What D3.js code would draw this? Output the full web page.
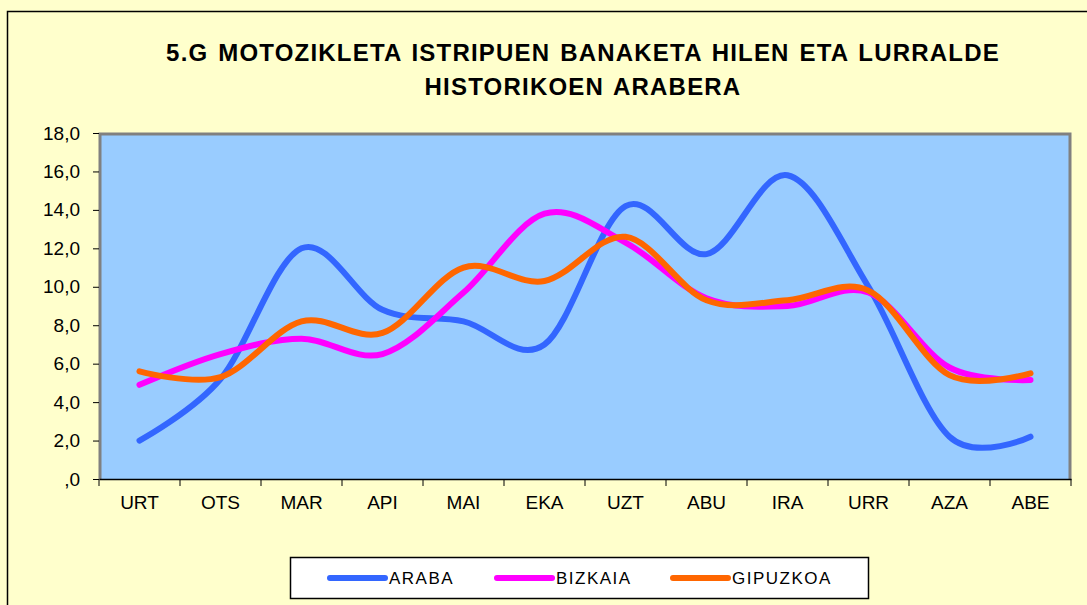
<!DOCTYPE html>
<html>
<head>
<meta charset="utf-8">
<script src="https://cdn.jsdelivr.net/npm/d3@7"></script>
<style>
  body { margin: 0; background: #FFFFCC; }
  svg { display: block; font-family: Arial, "Liberation Sans", sans-serif; }
</style>
</head>
<body>
<svg id="chart" width="1087" height="605"></svg>
<script>
// hilabeteak
var MONTHS = ["URT", "OTS", "MAR", "API", "MAI", "EKA", "UZT", "ABU", "IRA", "URR", "AZA", "ABE"];
var ARABA    = [2.0, 5.2, 12.0, 8.8, 8.2, 7.0, 14.2, 11.7, 15.8, 10.0, 2.2, 2.2];
var BIZKAIA  = [4.9, 6.5, 7.3, 6.5, 9.7, 13.8, 12.3, 9.4, 9.0, 9.7, 5.8, 5.15];
var GIPUZKOA = [5.6, 5.3, 8.2, 7.6, 11.0, 10.3, 12.6, 9.3, 9.3, 9.8, 5.4, 5.5];
var SERIES_NAMES = ["ARABA", "BIZKAIA", "GIPUZKOA"];
var Y_TICKS = [0, 2, 4, 6, 8, 10, 12, 14, 16, 18];
var TITLE_LINES = ["5.G MOTOZIKLETA ISTRIPUEN BANAKETA HILEN ETA LURRALDE", "HISTORIKOEN ARABERA"];

var COLORS = ["#3366FF", "#FF00FF", "#FF6600"];
var PLOT = {left: 99, right: 1071, top: 133, bottom: 479};

var svg = d3.select("#chart");

// kanpoko markoa
svg.append("rect")
    .attr("x", 7.5).attr("y", 11.5)
    .attr("width", 1100).attr("height", 620)
    .attr("fill", "#FFFFCC")
    .attr("stroke", "#000").attr("stroke-width", 1.5);

// izenburua
svg.selectAll("text.title")
    .data(TITLE_LINES)
    .enter()
    .append("text")
    .attr("class", "title")
    .attr("x", 583)
    .attr("y", function(d, i) { return 61 + i * 34; })
    .attr("text-anchor", "middle")
    .attr("font-size", 24)
    .attr("font-weight", "bold")
    .attr("letter-spacing", 1.2)
    .attr("word-spacing", 2)
    .attr("fill", "#000")
    .text(function(d) { return d; });

var x = d3.scaleBand().domain(MONTHS).range([PLOT.left, PLOT.right]);
var y = d3.scaleLinear().domain([0, 18]).range([PLOT.bottom, PLOT.top]);

// marrazketa eremua
svg.append("rect")
    .attr("x", PLOT.left).attr("y", PLOT.top)
    .attr("width", PLOT.right - PLOT.left).attr("height", PLOT.bottom - PLOT.top)
    .attr("fill", "#99CCFF");
svg.append("path")
    .attr("d", "M" + (PLOT.left + 1) + "," + PLOT.bottom + "V" + (PLOT.top + 1) + "H" + (PLOT.right - 1) + "V" + PLOT.bottom)
    .attr("fill", "none")
    .attr("stroke", "#808080")
    .attr("stroke-width", 3);

// ardatzak
var yAxis = svg.append("g")
    .attr("transform", "translate(" + PLOT.left + ",0)")
    .call(d3.axisLeft(y).tickValues(Y_TICKS).tickSize(6).tickPadding(13)
        .tickFormat(function(d) { return d === 0 ? ",0" : d3.format(".1f")(d).replace(".", ","); }));
yAxis.select(".domain").remove();
yAxis.selectAll("line").attr("stroke", "#000");
yAxis.selectAll("text").attr("font-size", 19).attr("fill", "#000").attr("font-family", null);

var xAxis = svg.append("g")
    .attr("transform", "translate(0," + PLOT.bottom + ")")
    .call(d3.axisBottom(x).tickSize(0).tickPadding(17));
xAxis.select(".domain").attr("stroke", "#000").attr("stroke-width", 1.5);
xAxis.selectAll("text").attr("font-size", 19).attr("fill", "#000").attr("font-family", null);

// hilabeteen arteko marrak
var bounds = MONTHS.map(function(m) { return x(m); }).concat([PLOT.right]);
svg.selectAll("line.xtick")
    .data(bounds)
    .enter()
    .append("line")
    .attr("class", "xtick")
    .attr("x1", function(d) { return d; }).attr("x2", function(d) { return d; })
    .attr("y1", PLOT.bottom).attr("y2", PLOT.bottom + 7)
    .attr("stroke", "#000");

// lerroak
var data = [ARABA, BIZKAIA, GIPUZKOA];
var line = d3.line()
    .x(function(d, i) { return x(MONTHS[i]) + x.bandwidth() / 2; })
    .y(function(d) { return y(d); })
    .curve(d3.curveCardinal.tension(0));

svg.selectAll("path.serie")
    .data(data)
    .enter()
    .append("path")
    .attr("class", "serie")
    .attr("d", line)
    .attr("fill", "none")
    .attr("stroke", function(d, i) { return COLORS[i]; })
    .attr("stroke-width", 6)
    .attr("stroke-linecap", "round")
    .attr("stroke-linejoin", "round");

// legenda
var legend = svg.append("g");
legend.append("rect")
    .attr("x", 290.5).attr("y", 557.5)
    .attr("width", 578).attr("height", 41)
    .attr("fill", "#fff")
    .attr("stroke", "#000").attr("stroke-width", 1.5);

var legendX = [330, 497, 673];
var items = legend.selectAll("g.item")
    .data(SERIES_NAMES)
    .enter()
    .append("g")
    .attr("class", "item")
    .attr("transform", function(d, i) { return "translate(" + legendX[i] + ",578)"; });
items.append("line")
    .attr("x1", 0).attr("x2", 55)
    .attr("stroke", function(d, i) { return COLORS[i]; })
    .attr("stroke-width", 6)
    .attr("stroke-linecap", "round");
items.append("text")
    .attr("x", 59)
    .attr("dy", "0.36em")
    .attr("font-size", 17)
    .attr("letter-spacing", 1.5)
    .attr("fill", "#000")
    .text(function(d) { return d; });
</script>
</body>
</html>
